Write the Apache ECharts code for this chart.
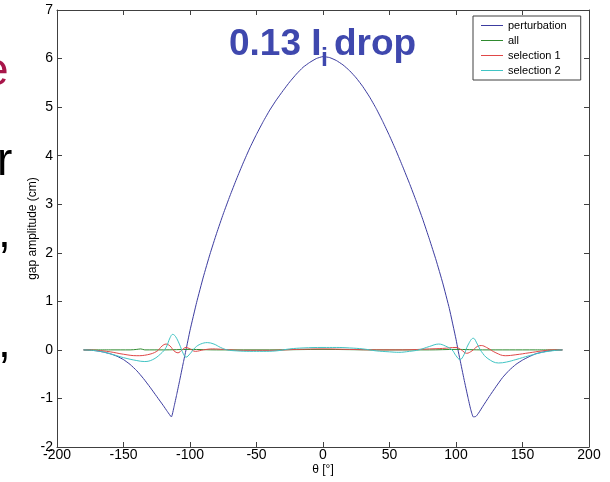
<!DOCTYPE html>
<html>
<head>
<meta charset="utf-8">
<script src="https://cdn.jsdelivr.net/npm/echarts@6/dist/echarts.min.js"></script>
<style>
html,body{margin:0;padding:0;background:#fff;}
#c{width:610px;height:482px;}
</style>
</head>
<body>
<div id="c"></div>
<script>
// ---- data ----
const xTicks = [-200, -150, -100, -50, 0, 50, 100, 150, 200];
const yTicks = [-2, -1, 0, 1, 2, 3, 4, 5, 6, 7];

const thetaPerturbation = [-180,-175,-170,-165,-160,-155,-150,-145,-140,-135,-130,-125,-120,-117,-114,-112,-110,-108,-105,-103,-100,-95,-90,-85,-80,-75,-70,-65,-60,-55,-50,-45,-40,-35,-30,-25,-20,-15,-10,-5,0,5,10,15,20,25,30,35,40,45,50,55,60,65,70,75,80,85,90,95,100,101.5,103,106,109,111,113,115,117,120,125,130,135,140,145,150,155,160,165,170,175,180];
const perturbation = [0,-0.006,-0.02,-0.045,-0.08,-0.13,-0.2,-0.3,-0.43,-0.59,-0.77,-0.96,-1.15,-1.27,-1.38,-1.17,-0.92,-0.66,-0.26,0,0.4,0.98,1.5,1.97,2.4,2.8,3.17,3.52,3.85,4.16,4.44,4.7,4.94,5.15,5.34,5.52,5.68,5.82,5.92,6.0,6.04,6.02,5.96,5.87,5.75,5.6,5.42,5.21,4.97,4.7,4.41,4.1,3.77,3.43,3.07,2.69,2.28,1.85,1.38,0.85,0.22,0,-0.2,-0.6,-0.98,-1.22,-1.38,-1.37,-1.3,-1.17,-0.96,-0.76,-0.57,-0.42,-0.3,-0.21,-0.14,-0.08,-0.045,-0.02,-0.006,0];

const thetaAll = [-180,-160,-145,-140,-137,-134,-120,-100,-80,-40,0,40,80,100,120,140,160,180];
const all = [0,0,0,0.01,0.02,0,0,0.01,0,0,0.01,0,0,0.01,0,0,0,0];

const thetaSel1 = [-180,-170,-160,-150,-140,-132,-125,-121,-118,-115,-112,-109,-106,-103,-100,-96,-90,-83,-75,-60,-40,-20,0,20,40,60,80,90,100,104,108,112,116,119,123,130,137,145,155,165,172,180];
const selection1 = [0,-0.01,-0.04,-0.09,-0.12,-0.1,-0.03,0.08,0.12,0.08,-0.02,-0.06,0,0.05,0.02,-0.03,0,0.02,0.01,-0.01,-0.01,0.01,0.02,0.01,0,0,0.02,0.03,0.05,0,-0.07,-0.02,0.07,0.09,0.05,-0.06,-0.12,-0.1,-0.06,-0.02,0,0];

const thetaSel2 = [-180,-170,-160,-150,-140,-134,-128,-122,-118,-115,-113,-111,-108,-105,-103,-100,-96,-92,-87,-82,-77,-72,-65,-55,-45,-35,-25,-15,0,10,20,30,40,50,57,65,72,80,87,92,97,100,103,106,109,113,116,119,124,132,138,145,155,165,175,180];
const selection2 = [0,-0.02,-0.08,-0.16,-0.22,-0.24,-0.2,-0.08,0.05,0.25,0.32,0.28,0.12,-0.08,-0.15,-0.08,0.05,0.12,0.15,0.12,0.05,0,-0.02,-0.03,-0.03,-0.02,0.02,0.04,0.05,0.05,0.04,0.02,-0.02,-0.04,-0.05,-0.03,0,0.07,0.12,0.08,0,-0.12,-0.2,-0.1,0.1,0.24,0.12,-0.03,-0.18,-0.27,-0.25,-0.2,-0.12,-0.05,-0.01,0];

const seriesNames = ['perturbation', 'all', 'selection 1', 'selection 2'];
const seriesColors = ['#3c3ca0', '#2f8a2f', '#e04848', '#40c4c4'];

function pairs(xs, ys) { return xs.map((x, i) => [x, ys[i]]); }

const chart = echarts.init(document.getElementById('c'), null, {renderer: 'canvas'});
const FONT = 'Arial, "Liberation Sans", Helvetica, sans-serif';
const AX = '#404040';

const option = {
  backgroundColor: '#ffffff',
  animation: false,
  grid: {left: 57, right: 21, top: 10, bottom: 35, containLabel: false},
  legend: {
    orient: 'vertical',
    left: 473, top: 16,
    padding: [3, 14, 3, 8],
    itemGap: 2,
    itemWidth: 22, itemHeight: 1,
    icon: 'rect',
    backgroundColor: '#ffffff',
    borderColor: AX, borderWidth: 1,
    textStyle: {fontFamily: FONT, fontSize: 11, color: '#000', lineHeight: 13},
    data: seriesNames
  },
  xAxis: [{
    type: 'value', min: xTicks[0], max: xTicks[xTicks.length - 1], interval: 50,
    position: 'bottom',
    axisLine: {show: true, onZero: false, lineStyle: {color: AX, width: 1}},
    axisTick: {show: true, inside: true, length: 5, lineStyle: {color: AX}},
    axisLabel: {fontFamily: FONT, fontSize: 14, color: '#000', margin: 1},
    splitLine: {show: false},
    name: 'θ [°]', nameLocation: 'middle', nameGap: 17, nameMoveOverlap: false,
    nameTextStyle: {fontFamily: FONT, fontSize: 12, color: '#000'}
  }, {
    type: 'value', min: xTicks[0], max: xTicks[xTicks.length - 1], interval: 50,
    position: 'top',
    axisLine: {show: true, onZero: false, lineStyle: {color: AX, width: 1}},
    axisTick: {show: true, inside: true, length: 5, lineStyle: {color: AX}},
    axisLabel: {show: false},
    splitLine: {show: false}
  }],
  yAxis: [{
    type: 'value', min: yTicks[0], max: yTicks[yTicks.length - 1], interval: 1,
    position: 'left',
    axisLine: {show: true, onZero: false, lineStyle: {color: AX, width: 1}},
    axisTick: {show: true, inside: true, length: 5, lineStyle: {color: AX}},
    axisLabel: {fontFamily: FONT, fontSize: 14, color: '#000', margin: 4},
    splitLine: {show: false},
    name: 'gap amplitude (cm)', nameLocation: 'middle', nameGap: 18, nameRotate: 90, nameMoveOverlap: false,
    nameTextStyle: {fontFamily: FONT, fontSize: 12, color: '#000'}
  }, {
    type: 'value', min: yTicks[0], max: yTicks[yTicks.length - 1], interval: 1,
    position: 'right',
    axisLine: {show: true, onZero: false, lineStyle: {color: AX, width: 1}},
    axisTick: {show: true, inside: true, length: 5, lineStyle: {color: AX}},
    axisLabel: {show: false},
    splitLine: {show: false}
  }],
  series: [
    {name: seriesNames[0], type: 'line', data: pairs(thetaPerturbation, perturbation), smooth: 0.15, symbol: 'none',
     itemStyle: {color: seriesColors[0]}, lineStyle: {color: seriesColors[0], width: 1}},
    {name: seriesNames[1], type: 'line', data: pairs(thetaAll, all), smooth: 0.3, symbol: 'none',
     itemStyle: {color: seriesColors[1]}, lineStyle: {color: seriesColors[1], width: 1}},
    {name: seriesNames[2], type: 'line', data: pairs(thetaSel1, selection1), smooth: 0.4, symbol: 'none',
     itemStyle: {color: seriesColors[2]}, lineStyle: {color: seriesColors[2], width: 1}},
    {name: seriesNames[3], type: 'line', data: pairs(thetaSel2, selection2), smooth: 0.4, symbol: 'none',
     itemStyle: {color: seriesColors[3]}, lineStyle: {color: seriesColors[3], width: 1}}
  ],
  graphic: [
    {type: 'text', x: 229, y: 44.5, z: 100,
     style: {text: '0.13 I', font: 'bold 37px ' + FONT, fill: '#3f48ae', align: 'left', verticalAlign: 'middle'}},
    {type: 'text', x: 321, y: 59.5, z: 100,
     style: {text: 'i', font: 'bold 25px ' + FONT, fill: '#3f48ae', align: 'left', verticalAlign: 'middle'}},
    {type: 'text', x: 334, y: 44.5, z: 100,
     style: {text: 'drop', font: 'bold 37px ' + FONT, fill: '#3f48ae', align: 'left', verticalAlign: 'middle'}},
    {type: 'text', x: -17, y: 72, style: {text: 'e', font: '46px ' + FONT, fill: '#a8164a', verticalAlign: 'middle'}},
    {type: 'text', x: -3, y: 162, style: {text: 'r', font: '46px ' + FONT, fill: '#000', verticalAlign: 'middle'}},
    {type: 'text', x: -2, y: 234, style: {text: ',', font: '46px ' + FONT, fill: '#000', verticalAlign: 'middle'}},
    {type: 'text', x: -2, y: 344, style: {text: ',', font: '46px ' + FONT, fill: '#000', verticalAlign: 'middle'}}
  ]
};
chart.setOption(option);
</script>
</body>
</html>
